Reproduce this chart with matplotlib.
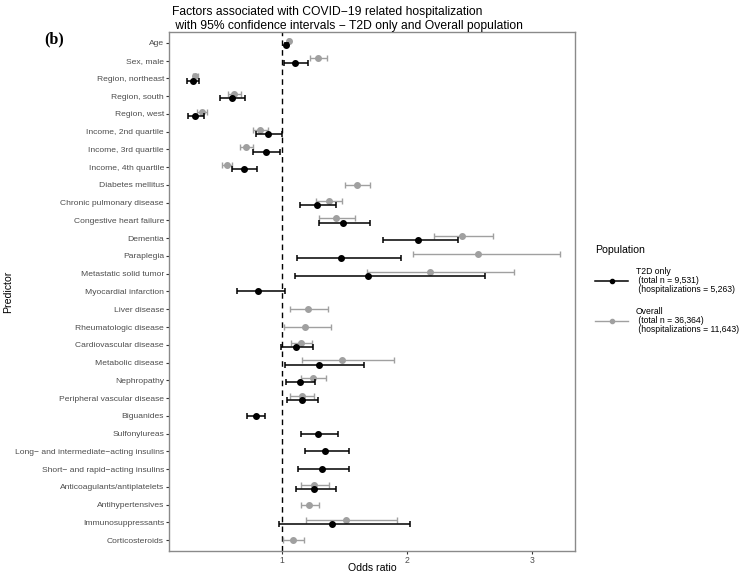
import numpy as np
import matplotlib
matplotlib.use('Agg')
import matplotlib.pyplot as plt
from matplotlib.lines import Line2D

plt.rcParams['font.family'] = ['Liberation Sans', 'DejaVu Sans']

# predictors, top to bottom
predictors = ['Age', 'Sex, male', 'Region, northeast', 'Region, south', 'Region, west',
              'Income, 2nd quartile', 'Income, 3rd quartile', 'Income, 4th quartile',
              'Diabetes mellitus', 'Chronic pulmonary disease', 'Congestive heart failure',
              'Dementia', 'Paraplegia', 'Metastatic solid tumor', 'Myocardial infarction',
              'Liver disease', 'Rheumatologic disease', 'Cardiovascular disease',
              'Metabolic disease', 'Nephropathy', 'Peripheral vascular disease',
              'Biguanides', 'Sulfonylureas', 'Long\u2212 and intermediate\u2212acting insulins',
              'Short\u2212 and rapid\u2212acting insulins', 'Anticoagulants/antiplatelets',
              'Antihypertensives', 'Immunosuppressants', 'Corticosteroids']

nan = np.nan
# T2D only
t2d_or = [1.032, 1.104, 0.285, 0.596, 0.304, 0.888, 0.870, 0.692, nan, 1.277, 1.484,
          2.083, 1.470, 1.688, 0.806, nan, nan, 1.109, 1.298, 1.141, 1.157,
          0.788, 1.290, 1.343, 1.317, 1.258, nan, 1.396, nan]
t2d_lo = [1.020, 1.011, 0.242, 0.506, 0.250, 0.793, 0.769, 0.601, nan, 1.141, 1.297,
          1.803, 1.117, 1.104, 0.637, nan, nan, 0.992, 1.024, 1.027, 1.040,
          0.719, 1.152, 1.179, 1.128, 1.109, nan, 0.976, nan]
t2d_hi = [1.045, 1.210, 0.338, 0.700, 0.373, 1.000, 0.982, 0.798, nan, 1.431, 1.704,
          2.409, 1.948, 2.620, 1.026, nan, nan, 1.247, 1.654, 1.266, 1.287,
          0.864, 1.447, 1.534, 1.537, 1.428, nan, 2.018, nan]
# Overall population
all_or = [1.053, 1.287, 0.306, 0.617, 0.357, 0.822, 0.713, 0.556, 1.601, 1.372, 1.428,
          2.436, 2.562, 2.184, nan, 1.203, 1.186, 1.149, 1.476, 1.247, 1.157,
          nan, nan, nan, nan, 1.258, 1.218, 1.508, 1.085]
all_lo = [1.048, 1.220, 0.285, 0.569, 0.322, 0.769, 0.663, 0.517, 1.505, 1.274, 1.297,
          2.214, 2.047, 1.675, nan, 1.064, 1.011, 1.067, 1.160, 1.152, 1.064,
          nan, nan, nan, nan, 1.149, 1.147, 1.191, 1.006]
all_hi = [1.058, 1.359, 0.330, 0.671, 0.397, 0.886, 0.766, 0.601, 1.700, 1.481, 1.580,
          2.688, 3.221, 2.857, nan, 1.369, 1.394, 1.242, 1.896, 1.354, 1.258,
          nan, nan, nan, nan, 1.378, 1.293, 1.917, 1.175]

t2d_label = 'T2D only\n (total n = 9,531)\n (hospitalizations = 5,263)'
all_label = 'Overall\n (total n = 36,364)\n (hospitalizations = 11,643)'

black = '#000000'
grey = '#a0a0a0'
edge = '#8a8a8a'

fig = plt.figure(figsize=(7.42, 5.75), dpi=100)
ax = fig.add_axes([0.2284, 0.0423, 0.5469, 0.9015])

t2d_or, t2d_lo, t2d_hi = map(np.array, (t2d_or, t2d_lo, t2d_hi))
all_or, all_lo, all_hi = map(np.array, (all_or, all_lo, all_hi))
pos = np.arange(len(predictors), dtype=float)
both = ~np.isnan(t2d_or) & ~np.isnan(all_or)
dodge = 0.125
y_t2d = np.where(both, pos + dodge, pos)
y_all = np.where(both, pos - dodge, pos)

ax.axvline(1, color='black', ls=(0, (4, 3)), lw=1.0, zorder=1)

m = ~np.isnan(all_or)
ax.errorbar(all_or[m], y_all[m], xerr=[all_or[m] - all_lo[m], all_hi[m] - all_or[m]],
            fmt='o', color=grey, ms=4, lw=1.0, capsize=2, capthick=1.0, zorder=2)
m = ~np.isnan(t2d_or)
ax.errorbar(t2d_or[m], y_t2d[m], xerr=[t2d_or[m] - t2d_lo[m], t2d_hi[m] - t2d_or[m]],
            fmt='o', color=black, ms=4, lw=1.1, capsize=2, capthick=1.1, zorder=3)

ax.set_xlim(0.098, 3.344)
ax.set_ylim(len(predictors) - 0.4, -0.6)
ax.set_yticks(pos)
ax.set_yticklabels(predictors, fontsize=6.1, color='#4d4d4d')
ax.set_xticks([1, 2, 3])
ax.set_xticklabels(['1', '2', '3'], fontsize=6.2, color='#4d4d4d')
ax.tick_params(length=2.5, width=0.8, color='#333333', pad=1.5)
for s in ax.spines.values():
    s.set_color(edge)
    s.set_linewidth(1.0)
ax.set_xlabel('Odds ratio', fontsize=7.6)
ax.xaxis.set_label_coords(0.5, -(568 - 550.7) / 518.4)
ax.xaxis.label.set_va('center')
ax.set_ylabel('Predictor', fontsize=7.6)
ax.yaxis.set_label_coords(-(169.5 - 8) / 405.8, 0.5)
ax.yaxis.label.set_va('center')

fig.text(172 / 742, 1 - 6.5 / 575,
         'Factors associated with COVID\u221219 related hospitalization\n'
         ' with 95% confidence intervals \u2212 T2D only and Overall population',
         ha='left', va='top', fontsize=8.7, linespacing=1.15)
fig.text(44 / 742, 1 - 39 / 575, '(b)', family='Liberation Serif', fontweight='bold',
         fontsize=11.5, ha='left', va='center')

handles = [Line2D([], [], color=black, marker='o', ms=3, lw=1.1),
           Line2D([], [], color=grey, marker='o', ms=3, lw=1.0)]
leg = fig.legend(handles, [t2d_label, all_label], title='Population',
                 loc='upper left', bbox_to_anchor=(588 / 742, 1 - 238 / 575),
                 frameon=False, fontsize=6.2, title_fontsize=7.6, handlelength=3.9,
                 labelspacing=1.45, alignment='left', handletextpad=0.85,
                 borderpad=0.3)
for t in leg.get_texts():
    t.set_linespacing(1.0)

fig.savefig('out.png', dpi=100)
